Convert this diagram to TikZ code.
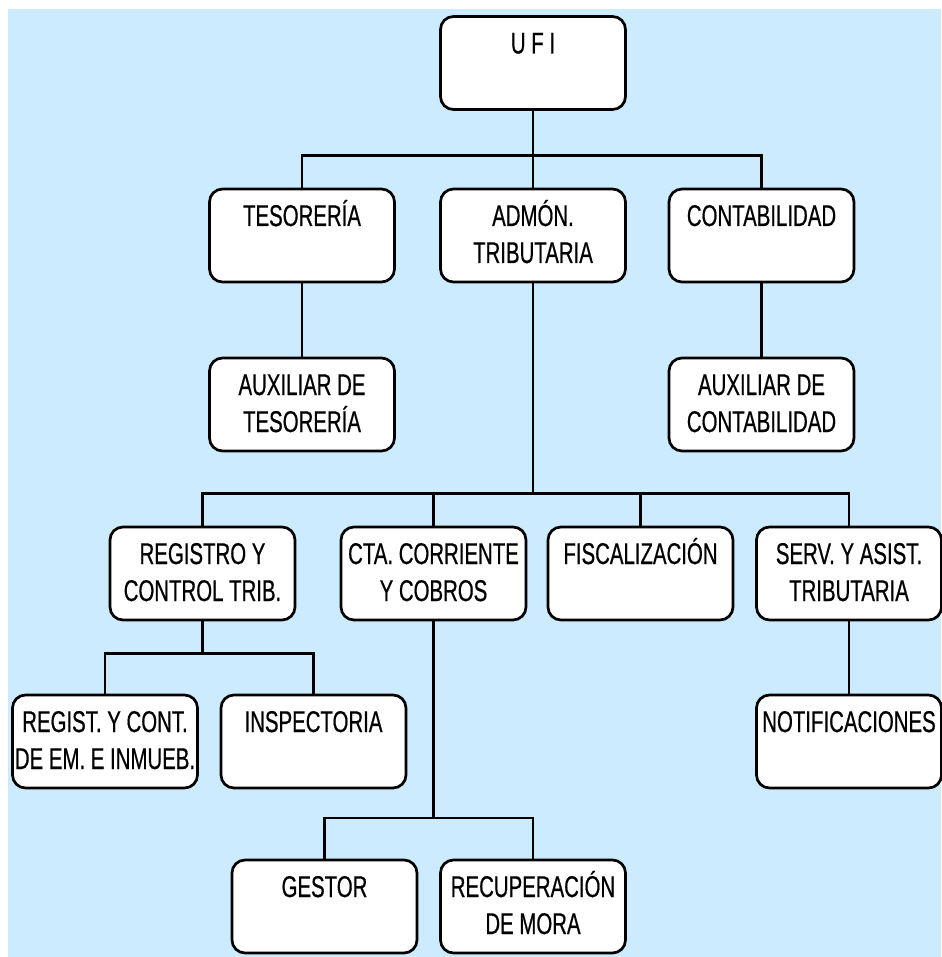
\documentclass[tikz,border=0pt]{standalone}
\usepackage{fontspec}
\setmainfont{Liberation Sans}[FakeStretch=0.68, FakeBold=0.5]
\usepackage{tikz}
\definecolor{bgblue}{RGB}{204,235,255}
\newcommand{\unitwidth}{185pt}
\newcommand{\unitheight}{93pt}
% text sits at the top of each box
\newcommand{\unitlabel}[1]{\parbox[c][\unitheight][t]{\unitwidth}{\centering\rule{0pt}{37pt}#1}}
\tikzstyle{unit}=[draw, fill=white, line width=2.7pt, rounded corners=13pt, inner sep=0, outer sep=0,
                  font=\fontsize{30}{37}\selectfont]
\tikzstyle{orgchart}=[x=1pt, y=-1pt, line width=2.2pt]

\begin{document}
\begin{tikzpicture}[orgchart]
    \useasboundingbox (0, 0) rectangle (941, 957);
    \fill[bgblue] (8, 9) rectangle (941, 957);
    \coordinate (bus1) at (0, 155.5);
    \coordinate (bus2) at (0, 493.5);
    \coordinate (bus3) at (0, 653.5);
    \coordinate (bus4) at (0, 818);
    \node[unit] (ufi) at (533, 63) {\unitlabel{U F I}};
    \node[unit] (tes) at (302, 235.5) {\unitlabel{TESORERÍA}};
    \node[unit] (adm) at (533, 235.5) {\unitlabel{ADMÓN.\\ TRIBUTARIA}};
    \node[unit] (cont) at (761.5, 235.5) {\unitlabel{CONTABILIDAD}};
    \node[unit] (auxtes) at (302, 404.5) {\unitlabel{AUXILIAR DE\\ TESORERÍA}};
    \node[unit] (auxcont) at (761.5, 404.5) {\unitlabel{AUXILIAR DE\\ CONTABILIDAD}};
    \node[unit] (reg) at (202.5, 573.5) {\unitlabel{REGISTRO Y\\ CONTROL TRIB.}};
    \node[unit] (cta) at (433.5, 573.5) {\unitlabel{CTA. CORRIENTE\\ Y COBROS}};
    \node[unit] (fis) at (640.5, 573.5) {\unitlabel{FISCALIZACIÓN}};
    \node[unit] (serv) at (849, 573.5) {\unitlabel{SERV. Y ASIST.\\ TRIBUTARIA}};
    \node[unit] (regist) at (105, 741.5) {\unitlabel{REGIST. Y CONT.\\ DE EM. E INMUEB.}};
    \node[unit] (insp) at (313.5, 741.5) {\unitlabel{INSPECTORIA}};
    \node[unit] (notif) at (849, 741.5) {\unitlabel{NOTIFICACIONES}};
    \node[unit] (gestor) at (324.5, 906.5) {\unitlabel{GESTOR}};
    \node[unit] (recup) at (533, 906.5) {\unitlabel{RECUPERACIÓN\\ DE MORA}};
    % connectors
    \draw (ufi.south) -- (adm.north);
    \draw (tes.north) -- (tes.north |- bus1) -| (cont.north);
    \draw (tes.south) -- (auxtes.north);
    \draw (cont.south) -- (auxcont.north);
    \draw (adm.south) -- (adm.south |- bus2);
    \draw (reg.north) -- (reg.north |- bus2) -| (serv.north);
    \draw (cta.north) -- (cta.north |- bus2);
    \draw (fis.north) -- (fis.north |- bus2);
    \draw (reg.south) -- (reg.south |- bus3);
    \draw (regist.north) -- (regist.north |- bus3) -| (insp.north);
    \draw (serv.south) -- (notif.north);
    \draw (cta.south) -- (cta.south |- bus4);
    \draw (gestor.north) -- (gestor.north |- bus4) -| (recup.north);
\end{tikzpicture}
\end{document}
